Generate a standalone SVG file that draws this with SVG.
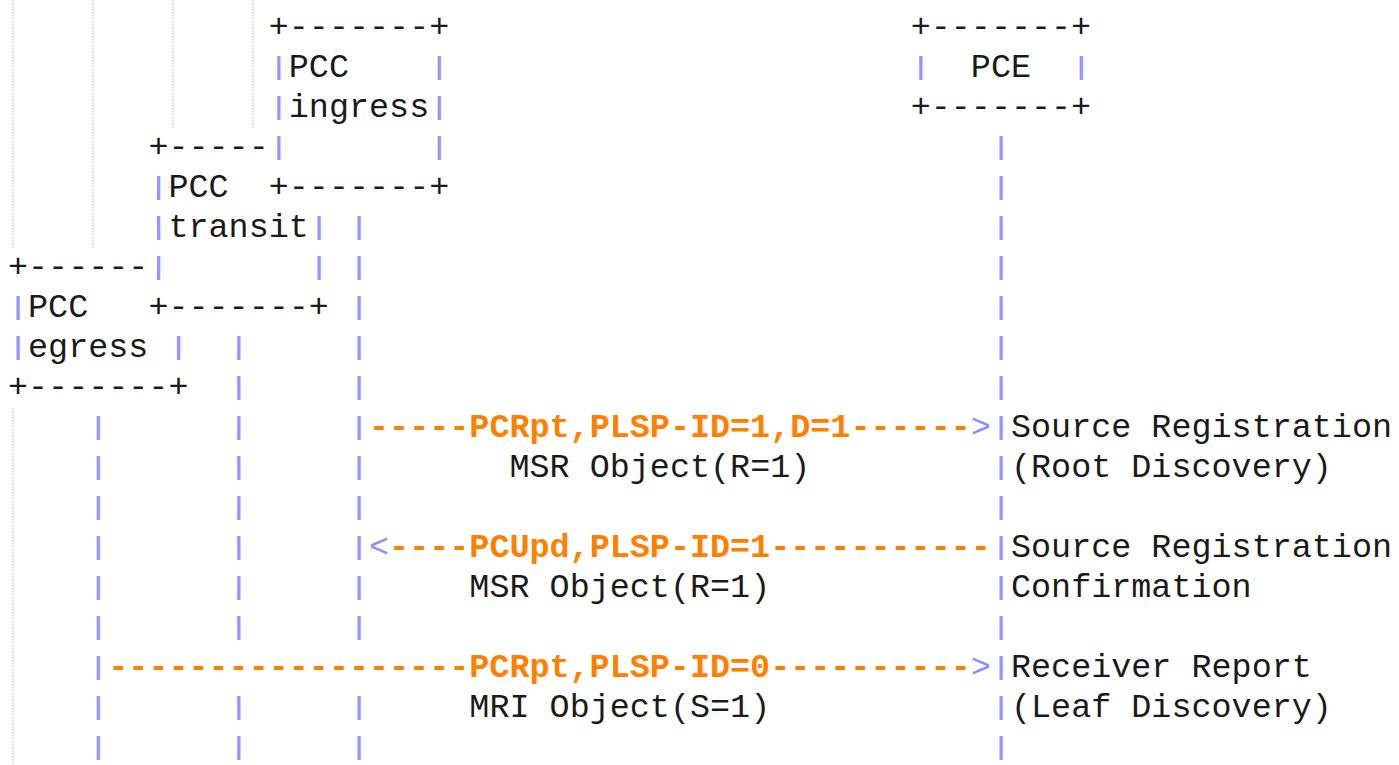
<svg xmlns="http://www.w3.org/2000/svg" width="1399" height="765" viewBox="0 0 1399 765">
<style>
  text { font-family: "Liberation Mono", "Courier New", monospace; font-size: 33.43px; fill: #1a1a1a; white-space: pre; }
  .bar { font-size: 25px; fill: #9494ff; font-weight: bold; text-anchor: middle; }
  .msg { fill: #ff8000; font-weight: bold; }
  .head { fill: #8c8cff; }
  .guide { stroke: #c4c4c4; stroke-width: 1.2; stroke-dasharray: 1.5 1.5; fill: none; }
</style>
<rect width="1399" height="765" fill="#ffffff"/>

<g id="guides">
  <line class="guide" x1="13" y1="0" x2="13" y2="248"/>
  <line class="guide" x1="13" y1="408" x2="13" y2="765"/>
  <line class="guide" x1="93" y1="0" x2="93" y2="248"/>
  <line class="guide" x1="173" y1="0" x2="173" y2="128"/>
  <line class="guide" x1="253" y1="0" x2="253" y2="128"/>
</g>

<g id="pcc-ingress">
  <text x="268.75" y="37">+-------+</text>
  <text x="288.81" y="77">PCC</text>
  <text x="288.81" y="117">ingress</text>
  <text x="268.75" y="197">+-------+</text>
  <text class="bar" x="278.78 278.78 278.78" y="75 115 155">|||</text>
  <text class="bar" x="439.26 439.26 439.26" y="75 115 155">|||</text>
</g>

<g id="pce">
  <text x="910.67" y="37">+-------+</text>
  <text x="970.85" y="77">PCE</text>
  <text x="910.67" y="117">+-------+</text>
  <text class="bar" x="920.7" y="75">|</text>
  <text class="bar" x="1081.18" y="75">|</text>
</g>

<g id="pcc-transit">
  <text x="148.39" y="157">+-----</text>
  <text x="168.45" y="197">PCC</text>
  <text x="168.45" y="237">transit</text>
  <text x="148.39" y="317">+-------+</text>
  <text class="bar" x="158.42 158.42 158.42" y="195 235 275">|||</text>
  <text class="bar" x="318.9 318.9" y="235 275">||</text>
</g>

<g id="pcc-egress">
  <text x="7.97" y="277">+------</text>
  <text x="28.03" y="317">PCC</text>
  <text x="28.03" y="357">egress</text>
  <text x="7.97" y="397">+-------+</text>
  <text class="bar" x="18 18" y="315 355">||</text>
  <text class="bar" x="178.48" y="355">|</text>
</g>

<g id="connectors">
  <!-- lifelines -->
  <text id="life-pce" class="bar" x="1000.94 1000.94 1000.94 1000.94 1000.94 1000.94 1000.94 1000.94 1000.94 1000.94 1000.94 1000.94 1000.94 1000.94 1000.94 1000.94" y="155 195 235 275 315 355 395 435 475 515 555 595 635 675 715 755">||||||||||||||||</text>
  <text id="life-ingress" class="bar" x="359.02 359.02 359.02 359.02 359.02 359.02 359.02 359.02 359.02 359.02 359.02 359.02 359.02" y="235 275 315 355 395 435 475 515 555 595 635 715 755">|||||||||||||</text>
  <text id="life-transit" class="bar" x="238.66 238.66 238.66 238.66 238.66 238.66 238.66 238.66 238.66 238.66" y="355 395 435 475 515 555 595 635 715 755">||||||||||</text>
  <text id="life-egress" class="bar" x="98.24 98.24 98.24 98.24 98.24 98.24 98.24 98.24 98.24" y="435 475 515 555 595 635 675 715 755">|||||||||</text>

  <!-- messages -->
  <g id="msg1">
    <text x="369.05" y="437"><tspan class="msg">-----PCRpt,PLSP-ID=1,D=1------</tspan><tspan class="head">&gt;</tspan></text>
    <text x="509.47" y="477">MSR Object(R=1)</text>
  </g>
  <g id="msg2">
    <text x="369.05" y="557"><tspan class="head">&lt;</tspan><tspan class="msg">----PCUpd,PLSP-ID=1-----------</tspan></text>
    <text x="469.35" y="597">MSR Object(R=1)</text>
  </g>
  <g id="msg3">
    <text x="108.27" y="677"><tspan class="msg">------------------PCRpt,PLSP-ID=0----------</tspan><tspan class="head">&gt;</tspan></text>
    <text x="469.35" y="717">MRI Object(S=1)</text>
  </g>
</g>

<g id="notes">
  <text x="1010.97" y="437">Source Registration</text>
  <text x="1010.97" y="477">(Root Discovery)</text>
  <text x="1010.97" y="557">Source Registration</text>
  <text x="1010.97" y="597">Confirmation</text>
  <text x="1010.97" y="677">Receiver Report</text>
  <text x="1010.97" y="717">(Leaf Discovery)</text>
</g>
</svg>
